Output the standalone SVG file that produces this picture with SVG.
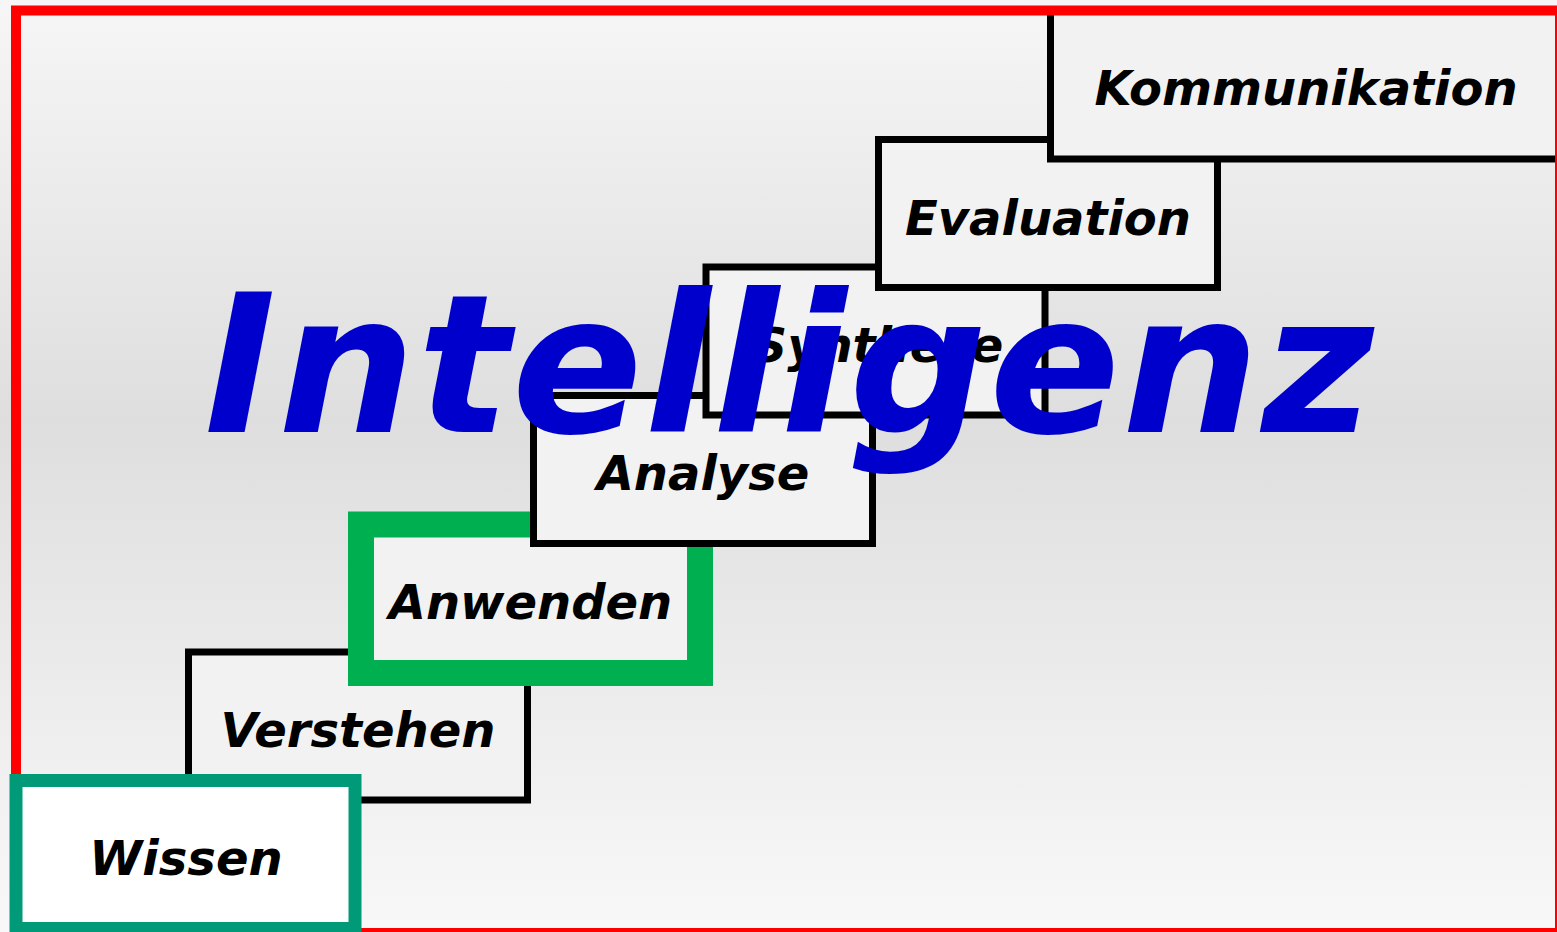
<svg xmlns="http://www.w3.org/2000/svg" width="1557" height="932" viewBox="0 0 1557 932">
  <defs>
    <linearGradient id="bg" x1="0" y1="0" x2="0" y2="1">
      <stop offset="0" stop-color="#f6f6f6"/>
      <stop offset="0.45" stop-color="#dedede"/>
      <stop offset="1" stop-color="#f8f8f8"/>
    </linearGradient>
    <style>
      .box { fill: #f2f2f2; stroke: #000000; stroke-width: 7; }
      .lbl { font-family: "DejaVu Sans", Verdana, sans-serif; font-weight: bold; font-style: italic; font-size: 48px; fill: #000000; text-anchor: middle; }
      .big { font-family: "DejaVu Sans", Verdana, sans-serif; font-weight: bold; font-style: italic; font-size: 193px; letter-spacing: 2px; fill: #0000cc; text-anchor: middle; }
    </style>
  </defs>
  <rect x="0" y="0" width="1557" height="932" fill="url(#bg)"/>
  <g id="connectors"/>
  <g id="verstehen">
    <rect class="box" x="188.5" y="652" width="339" height="148"/>
    <text class="lbl" x="358" y="747">Verstehen</text>
  </g>
  <g id="anwenden">
    <rect x="361" y="524.5" width="339" height="148.5" fill="#f2f2f2" stroke="#00b050" stroke-width="26"/>
    <text class="lbl" x="530.5" y="619">Anwenden</text>
  </g>
  <g id="analyse">
    <rect class="box" x="533.5" y="395.5" width="339" height="148"/>
    <text class="lbl" x="703" y="490">Analyse</text>
  </g>
  <g id="synthese">
    <rect class="box" x="706" y="267" width="339" height="148"/>
    <text class="lbl" x="878" y="362">Synthese</text>
  </g>
  <g id="evaluation">
    <rect class="box" x="878.5" y="139.5" width="339" height="148"/>
    <text class="lbl" x="1048" y="235">Evaluation</text>
  </g>
  <g id="kommunikation">
    <rect class="box" x="1050.5" y="11" width="520" height="148"/>
    <text class="lbl" x="1306" y="105">Kommunikation</text>
  </g>
  <g id="frame">
    <rect x="16" y="10.5" width="1544" height="922.5" fill="none" stroke="#ff0000" stroke-width="10"/>
  </g>
  <g id="wissen">
    <rect x="16" y="780.5" width="339" height="148" fill="#ffffff" stroke="#009a78" stroke-width="13"/>
    <text class="lbl" x="186" y="875">Wissen</text>
  </g>
  <g id="intelligenz">
    <text class="big" x="790" y="432">Intelligenz</text>
  </g>
</svg>
